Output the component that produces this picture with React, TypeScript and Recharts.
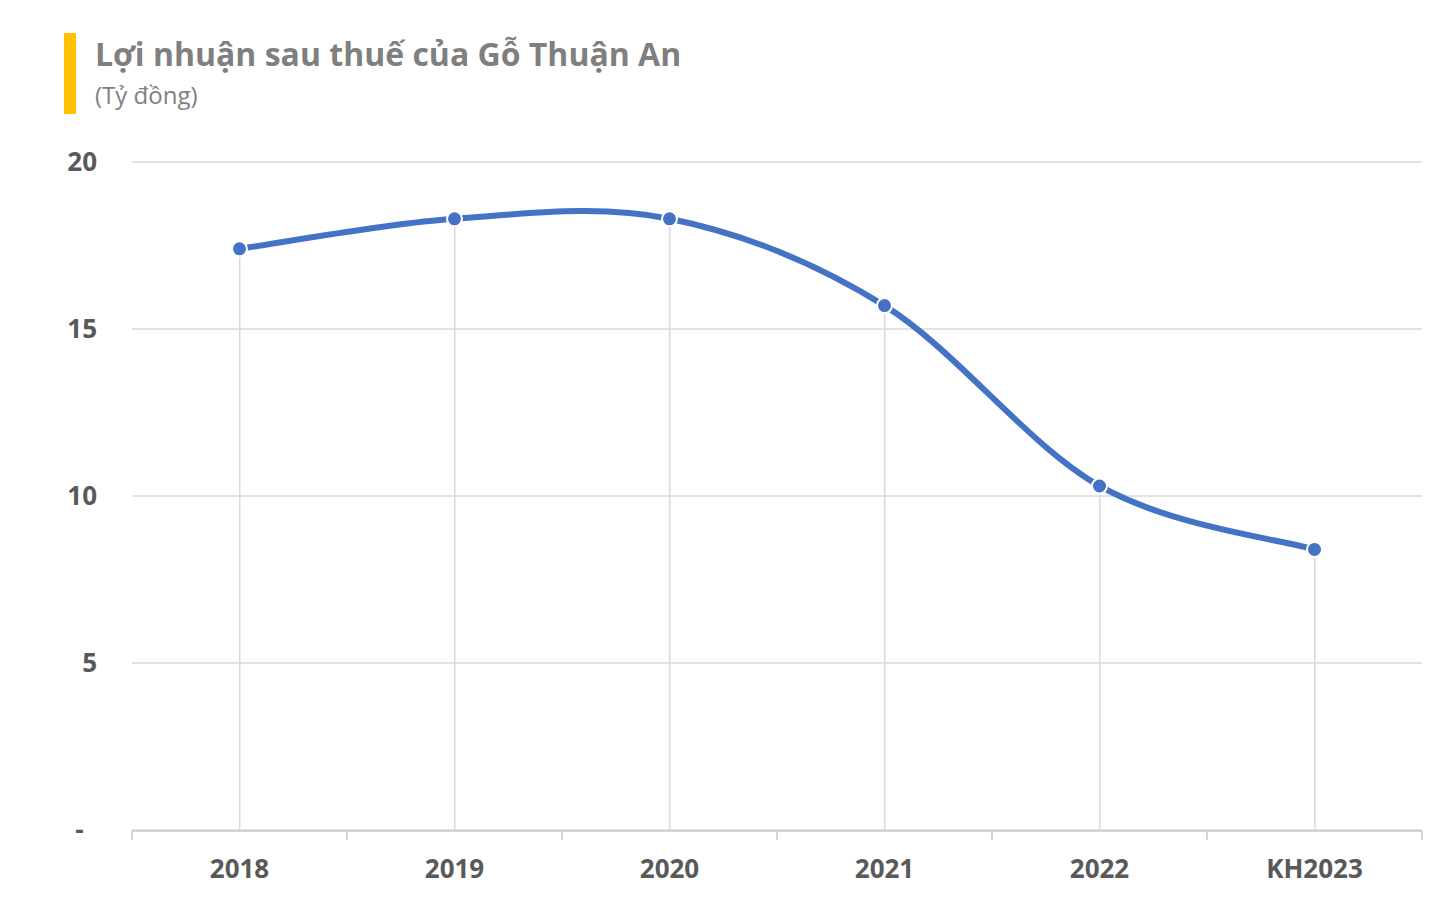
import React from 'react';
import { ComposedChart, Line, Bar, XAxis, YAxis, CartesianGrid } from 'recharts';

const years = ['2018', '2019', '2020', '2021', '2022', 'KH2023'];
const profit = [17.4, 18.3, 18.3, 15.7, 10.3, 8.4];
const yTicks = [0, 5, 10, 15, 20];
const edgeTicks = [0, 1, 2, 3, 4, 5, 6];

// category i sits in the middle of slot [i, i+1] on the edge axis
const data = years.map((year, i) => ({ year, slot: i + 0.5, profit: profit[i] }));

const BLUE = '#4472C4';
const GREY_TEXT = '#595959';
const AXIS_GREY = '#c8c8c8';

// Excel-style smoothing: Catmull-Rom converted to cubic beziers
const excelSmooth = (context: any) => {
  let pts: number[][] = [];
  return {
    areaStart() {},
    areaEnd() {},
    lineStart() {
      pts = [];
    },
    point(x: number, y: number) {
      pts.push([+x, +y]);
    },
    lineEnd() {
      if (!pts.length) return;
      context.moveTo(pts[0][0], pts[0][1]);
      for (let i = 0; i < pts.length - 1; i++) {
        const p0 = pts[i - 1] || pts[i];
        const p1 = pts[i];
        const p2 = pts[i + 1];
        const p3 = pts[i + 2] || pts[i + 1];
        context.bezierCurveTo(
          p1[0] + (p2[0] - p0[0]) / 6,
          p1[1] + (p2[1] - p0[1]) / 6,
          p2[0] - (p3[0] - p1[0]) / 6,
          p2[1] - (p3[1] - p1[1]) / 6,
          p2[0],
          p2[1]
        );
      }
    },
  };
};

export default function App() {
  const font = '"Open Sans", sans-serif';
  return (
    <div style={{ position: 'absolute', left: 0, top: 0, width: 1441, height: 909, background: '#fff', fontFamily: font }}>
      <div style={{ position: 'absolute', left: 64, top: 33, width: 12, height: 81, background: '#FFC000' }} />
      <div style={{ position: 'absolute', left: 95, top: 32, fontSize: 32, fontWeight: 700, color: '#7f7f7f', whiteSpace: 'nowrap' }}>
        Lợi nhuận sau thuế của Gỗ Thuận An
      </div>
      <div style={{ position: 'absolute', left: 95, top: 78, fontSize: 24, color: '#7f7f7f', whiteSpace: 'nowrap' }}>
        (Tỷ đồng)
      </div>
      <div style={{ position: 'absolute', left: 0, top: 0 }}>
        <ComposedChart width={1441} height={909} data={data} margin={{ top: 162, right: 19, bottom: 77, left: 52 }}>
          <CartesianGrid vertical={false} stroke="#d9d9d9" strokeWidth={1.3} />
          <XAxis
            xAxisId="edges"
            dataKey="slot"
            type="number"
            domain={[0, 6]}
            ticks={edgeTicks}
            tick={{ fontSize: 1, fill: 'none' }}
            tickFormatter={() => ''}
            tickSize={9}
            axisLine={{ stroke: AXIS_GREY, strokeWidth: 1.5 }}
            tickLine={{ stroke: AXIS_GREY, strokeWidth: 1.5 }}
            height={1}
          />
          <XAxis
            dataKey="year"
            height={1}
            axisLine={false}
            tickLine={false}
            tickMargin={24}
            tick={{ fill: GREY_TEXT, fontSize: 26, fontWeight: 700, fontFamily: font }}
          />
          <YAxis
            domain={[0, 20]}
            ticks={yTicks}
            width={80}
            axisLine={false}
            tickLine={false}
            tickSize={0}
            tickMargin={35}
            tickFormatter={(v: number) => (v === 0 ? '-\u00a0\u00a0' : String(v))}
            tick={{ fill: GREY_TEXT, fontSize: 26, fontWeight: 700, fontFamily: font }}
          />
          <Bar dataKey="profit" barSize={1.5} fill="#d9d9d9" isAnimationActive={false} />
          {/* invisible series so the edge axis is laid out */}
          <Line xAxisId="edges" dataKey="profit" stroke="none" dot={false} activeDot={false} isAnimationActive={false} />
          <Line
            dataKey="profit"
            type={excelSmooth as any}
            stroke={BLUE}
            strokeWidth={6}
            dot={{ r: 7.5, fill: BLUE, stroke: '#fff', strokeWidth: 2 }}
            activeDot={false}
            isAnimationActive={false}
          />
        </ComposedChart>
      </div>
    </div>
  );
}
